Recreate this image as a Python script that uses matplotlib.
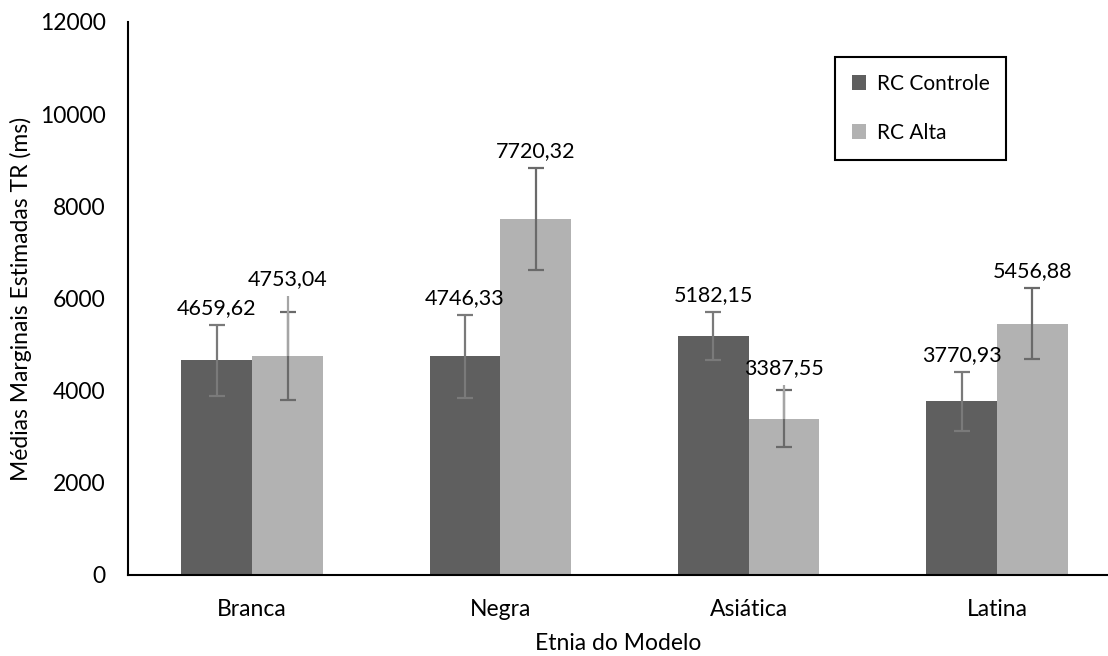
import numpy as np
import matplotlib
matplotlib.use('Agg')
import matplotlib.pyplot as plt

categorias = ['Branca', 'Negra', 'Asiática', 'Latina']
rc_controle = [4659.62, 4746.33, 5182.15, 3770.93]
rc_alta = [4753.04, 7720.32, 3387.55, 5456.88]
erro_controle = [770, 900, 520, 640]
erro_alta = [950, 1110, 620, 780]
# traco cinza claro que passa do topo da barra de erro (RC Alta)
extensao_alta = [6055, 0, 4123, 0]

plt.rcParams['font.family'] = ['Lato', 'DejaVu Sans']
plt.rcParams['font.size'] = 15

fig = plt.figure(figsize=(11.08, 6.56), dpi=100)
ax = fig.add_axes([0.1155, 0.1235, 0.8845, 0.843])

x = np.arange(len(categorias))
largura = 0.285

ax.bar(x - largura / 2, rc_controle, largura, color='#5f5f5f', label='RC Controle')
ax.bar(x + largura / 2, rc_alta, largura, color='#b2b2b2', label='RC Alta')

ax.errorbar(x - largura / 2, rc_controle, yerr=erro_controle, fmt='none',
            ecolor='#7a7a7a', elinewidth=1.6, capsize=6, capthick=1.6)
ax.errorbar(x + largura / 2, rc_alta, yerr=erro_alta, fmt='none',
            ecolor='#6a6a6a', elinewidth=1.6, capsize=6, capthick=1.6)

topo_alta = []
for xi, v, e, ext in zip(x + largura / 2, rc_alta, erro_alta, extensao_alta):
    if ext > v + e:
        ax.vlines(xi, v, ext, color='#a5a5a5', lw=1.6, zorder=3)
    topo_alta.append(max(v + e, ext))

# rotulos acima da barra de erro
topo_controle = [v + e for v, e in zip(rc_controle, erro_controle)]
for xs, vals, topos in [(x - largura / 2, rc_controle, topo_controle),
                        (x + largura / 2, rc_alta, topo_alta)]:
    for xi, v, t in zip(xs, vals, topos):
        ax.annotate(f'{v:.2f}'.replace('.', ','), (xi, t),
                    xytext=(0, 5), textcoords='offset points',
                    ha='center', va='bottom', fontsize=15.5)

ax.set_xlim(-0.5, 3.447)
ax.set_ylim(0, 12000)
ax.set_yticks(np.arange(0, 12001, 2000))
ax.set_xticks(x)
ax.set_xticklabels(categorias)
ax.tick_params(axis='both', length=0, labelsize=16.5)
ax.tick_params(axis='x', pad=17)
ax.tick_params(axis='y', pad=16)

for s in ['top', 'right']:
    ax.spines[s].set_visible(False)
for s in ['left', 'bottom']:
    ax.spines[s].set_linewidth(1.5)
    ax.spines[s].set_color('black')

ax.set_xlabel('Etnia do Modelo', fontsize=16.5, labelpad=10)
ax.set_ylabel('Médias Marginais Estimadas TR (ms)', fontsize=16.5, labelpad=6)

leg = ax.legend(loc='upper left', bbox_to_anchor=(0.7536, 0.913),
                bbox_transform=fig.transFigure, fancybox=False,
                edgecolor='black', handlelength=0.7, handleheight=0.7,
                labelspacing=1.4, borderpad=0.8, handletextpad=0.5,
                borderaxespad=0, fontsize=15, framealpha=1)
leg.get_frame().set_linewidth(1.5)

fig.savefig('out.png', dpi=100)
